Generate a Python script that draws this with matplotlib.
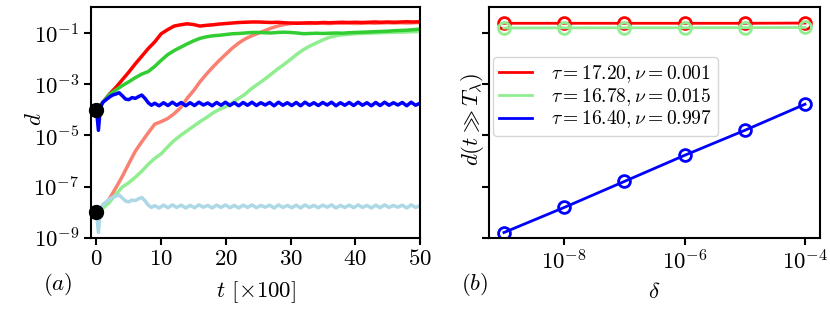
import numpy as np
import matplotlib
matplotlib.use('Agg')
from matplotlib import pyplot as plt

plt.rcParams['mathtext.fontset'] = 'cm'
plt.rcParams['font.family'] = 'serif'
plt.rcParams['font.serif'] = ['cmr10', 'DejaVu Serif']
plt.rcParams['axes.formatter.use_mathtext'] = True
plt.rcParams['axes.unicode_minus'] = False

# ---- panel (a): log10 of d vs t (x100) ----
t_grow = np.arange(51)

red_log = [-4.0, -3.7, -3.38, -3.12, -2.82, -2.52, -2.2, -1.9, -1.6, -1.34, -1.02,
           -0.86, -0.72, -0.67, -0.63, -0.66, -0.72, -0.69, -0.67, -0.64, -0.62,
           -0.6, -0.58, -0.57, -0.56, -0.56, -0.57, -0.58, -0.57, -0.59, -0.6,
           -0.61, -0.6, -0.59, -0.6, -0.58, -0.59, -0.58, -0.57, -0.58, -0.57,
           -0.58, -0.57, -0.56, -0.57, -0.56, -0.57, -0.56, -0.55, -0.56, -0.55]
green_log = [-4.0, -3.7, -3.4, -3.22, -3.05, -2.9, -2.74, -2.6, -2.5, -2.3, -2.06,
             -1.84, -1.68, -1.55, -1.42, -1.3, -1.2, -1.14, -1.1, -1.08, -1.05,
             -1.02, -1.01, -0.99, -0.97, -0.97, -0.98, -0.99, -0.97, -0.96, -0.97,
             -0.99, -1.02, -1.01, -1.0, -1.01, -1.0, -0.99, -1.0, -0.98, -0.97,
             -0.96, -0.95, -0.94, -0.93, -0.92, -0.9, -0.89, -0.88, -0.86, -0.84]
salmon_log = [-8.0, -7.8, -7.48, -7.05, -6.6, -6.1, -5.62, -5.25, -4.9, -4.56, -4.46,
              -4.34, -4.15, -3.92, -3.55, -3.25, -2.9, -2.6, -2.32, -2.06, -1.82,
              -1.58, -1.38, -1.22, -1.1, -1.0, -0.9, -0.8, -0.72, -0.66, -0.62,
              -0.6, -0.61, -0.62, -0.6, -0.61, -0.62, -0.6, -0.61, -0.6, -0.62,
              -0.61, -0.6, -0.61, -0.6, -0.59, -0.6, -0.59, -0.6, -0.59, -0.58]
lgreen_log = [-8.0, -7.85, -7.62, -7.3, -7.02, -6.85, -6.64, -6.4, -6.13, -5.9, -5.72,
              -5.45, -5.2, -5.0, -4.82, -4.64, -4.46, -4.3, -4.12, -3.98, -3.88,
              -3.72, -3.55, -3.38, -3.16, -2.98, -2.8, -2.6, -2.4, -2.22, -2.02,
              -1.82, -1.64, -1.5, -1.38, -1.26, -1.16, -1.1, -1.06, -1.04, -1.02,
              -1.01, -1.0, -0.99, -0.98, -0.97, -0.96, -0.96, -0.95, -0.94, -0.93]

t_osc = np.concatenate([[0, 0.3, 0.6, 1, 1.5, 2, 2.5, 3, 3.5, 4, 4.5, 5, 5.5, 6, 6.5, 7, 7.5, 8, 8.5],
                        np.linspace(9, 50, 61)])
blue_log = [-4.0, -4.8, -3.9, -3.7, -3.6, -3.5, -3.42, -3.38, -3.33, -3.45,
            -3.58, -3.6, -3.52, -3.55, -3.48, -3.42, -3.55, -3.72, -3.82,
            -3.74, -3.84, -3.72, -3.83, -3.70, -3.82, -3.71, -3.84, -3.72, -3.83,
            -3.70, -3.81, -3.73, -3.84, -3.71, -3.82, -3.70, -3.83, -3.72, -3.84,
            -3.71, -3.82, -3.70, -3.83, -3.72, -3.81, -3.71, -3.84, -3.70, -3.82,
            -3.72, -3.83, -3.71, -3.84, -3.70, -3.82, -3.72, -3.83, -3.71, -3.81,
            -3.70, -3.84, -3.72, -3.82, -3.71, -3.83, -3.70, -3.82, -3.72, -3.84,
            -3.71, -3.83, -3.70, -3.82, -3.72, -3.81, -3.71, -3.84, -3.70, -3.82, -3.74]
lblue_log = [-8.0, -8.8, -7.9, -7.7, -7.6, -7.5, -7.42, -7.38, -7.33, -7.45,
             -7.57, -7.6, -7.53, -7.55, -7.48, -7.43, -7.56, -7.73, -7.82,
             -7.75, -7.84, -7.73, -7.83, -7.72, -7.82, -7.73, -7.84, -7.74, -7.83,
             -7.72, -7.81, -7.74, -7.84, -7.73, -7.82, -7.72, -7.83, -7.74, -7.84,
             -7.73, -7.82, -7.72, -7.83, -7.74, -7.81, -7.73, -7.84, -7.72, -7.82,
             -7.74, -7.83, -7.73, -7.84, -7.72, -7.82, -7.74, -7.83, -7.73, -7.81,
             -7.72, -7.84, -7.74, -7.82, -7.73, -7.83, -7.72, -7.82, -7.74, -7.84,
             -7.73, -7.83, -7.72, -7.82, -7.74, -7.81, -7.73, -7.84, -7.72, -7.82, -7.75]

start_t = [0, 0]
start_d = [1e-4, 1e-8]

# ---- panel (b): long time d vs delta ----
delta = [1e-9, 1e-8, 1e-7, 1e-6, 1e-5, 1e-4]
d_red = [0.245, 0.245, 0.245, 0.245, 0.245, 0.25]
d_green = [0.16, 0.162, 0.163, 0.163, 0.165, 0.168]
d_blue = [1.58e-9, 1.51e-8, 1.58e-7, 1.66e-6, 1.58e-5, 1.66e-4]
labels = [r'$\tau = 17.20, \nu = 0.001$',
          r'$\tau = 16.78, \nu = 0.015$',
          r'$\tau = 16.40, \nu = 0.997$']

fs = 16.5
fig = plt.figure(figsize=(8.3, 3.11), dpi=100)
ax1 = fig.add_axes([0.110, 0.236, 0.396, 0.740])
ax2 = fig.add_axes([0.589, 0.236, 0.399, 0.740], sharey=ax1)

lw = 2.5
ax1.plot(t_grow, 10.0 ** np.array(salmon_log), color='salmon', lw=lw)
ax1.plot(t_grow, 10.0 ** np.array(lgreen_log), color='lightgreen', lw=lw)
ax1.plot(t_osc, 10.0 ** np.array(lblue_log), color='lightblue', lw=lw)
ax1.plot(t_grow, 10.0 ** np.array(red_log), color='red', lw=lw)
ax1.plot(t_grow, 10.0 ** np.array(green_log), color='limegreen', lw=lw)
ax1.plot(t_osc, 10.0 ** np.array(blue_log), color='blue', lw=lw)
ax1.plot(start_t, start_d, 'o', color='black', ms=10, clip_on=False, zorder=5)

ax1.set_yscale('log')
ax1.set_ylim(1e-9, 1.02)
ax1.set_xlim(-0.8, 50)
ax1.set_yticks([1e-1, 1e-3, 1e-5, 1e-7, 1e-9])
ax1.set_xticks([0, 10, 20, 30, 40, 50])
ax1.minorticks_off()
ax1.set_xlabel(r'$t$ [$\times 100$]', fontsize=fs, va='center')
ax1.set_ylabel(r'$d$', fontsize=fs, va='center')
ax1.xaxis.set_label_coords(0.50, -0.239)
ax1.yaxis.set_label_coords(-0.170, 0.513)

for d, c, lab in zip([d_red, d_green, d_blue], ['red', 'lightgreen', 'blue'], labels):
    ax2.plot(delta, d, '-', color=c, lw=2, label=lab)
    ax2.plot(delta, d, 'o', color=c, mfc='none', mew=2, ms=8.5)
ax2.set_xscale('log')
ax2.set_xticks([1e-8, 1e-6, 1e-4])
ax2.minorticks_off()
ax2.tick_params(labelleft=False)
ax2.set_xlabel(r'$\delta$', fontsize=fs, va='center')
ax2.set_ylabel(r'$d(t \gg T_\lambda)$', fontsize=fs, va='center')
ax2.xaxis.set_label_coords(0.50, -0.235)
ax2.yaxis.set_label_coords(-0.050, 0.513)
ax2.legend(loc='upper left', bbox_to_anchor=(0.012, 0.785), borderaxespad=0,
           fontsize=14, handlelength=1.7, handletextpad=1.0, labelspacing=0.05,
           borderpad=0.3, fancybox=True)

for ax in (ax1, ax2):
    ax.tick_params(labelsize=fs, width=1.5, length=5)
    for s in ax.spines.values():
        s.set_linewidth(1.5)

fig.text(58 / 830, 1 - 285 / 311, r'$(a)$', fontsize=fs, ha='center', va='center')
fig.text(475 / 830, 1 - 285 / 311, r'$(b)$', fontsize=fs, ha='center', va='center')

fig.savefig('out.png', dpi=100)
